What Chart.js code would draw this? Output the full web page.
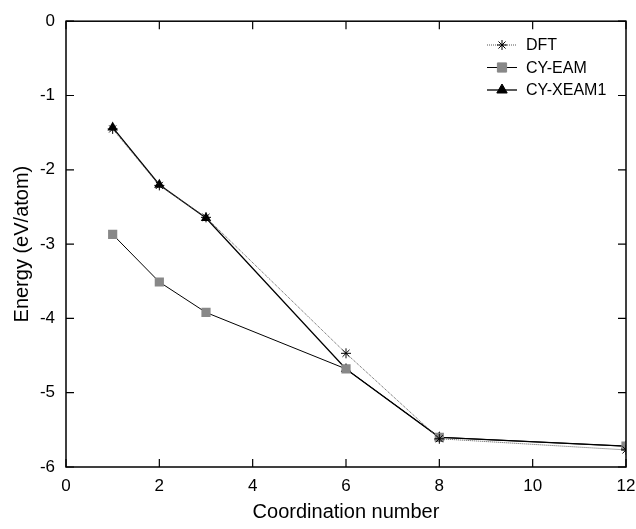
<!DOCTYPE html>
<html>
<head>
<meta charset="utf-8">
<script src="https://cdn.jsdelivr.net/npm/chart.js@4.4.1/dist/chart.umd.min.js"></script>
<style>
  html, body { margin: 0; padding: 0; background: #fff; }
  #wrap { width: 636px; height: 529px; }
</style>
</head>
<body>
<div id="wrap"><canvas id="EnergyChart" width="636" height="529"></canvas></div>
<script>
// coordination numbers and energies (eV/atom)
const coordination = [1, 2, 3, 6, 8, 12];
const dftEnergy = [-1.45, -2.21, -2.64, -4.47, -5.62, -5.77];
const eamEnergy = [-2.87, -3.51, -3.92, -4.68, -5.6, -5.72];
const xeamEnergy = [-1.43, -2.2, -2.65, -4.68, -5.6, -5.72];
const xTicks = [0, 2, 4, 6, 8, 10, 12];
const yTicks = [0, -1, -2, -3, -4, -5, -6];

function toPoints(xs, ys) {
    return xs.map(function (x, i) { return { x: x, y: ys[i] }; });
}

const FONT = 'Liberation Sans, Arial, sans-serif';

// frame, inward ticks and legend drawn on top of the plot
const framePlugin = {
    id: 'frame',
    afterDraw: function (chart) {
        const ctx = chart.ctx;
        const a = chart.chartArea;
        const xs = chart.scales.x, ys = chart.scales.y;
        ctx.save();
        ctx.strokeStyle = '#000';
        ctx.lineWidth = 1.5;
        ctx.strokeRect(a.left, a.top, a.right - a.left, a.bottom - a.top);
        ctx.lineWidth = 1.2;
        ctx.beginPath();
        xTicks.forEach(function (v) {
            const px = xs.getPixelForValue(v);
            ctx.moveTo(px, a.bottom); ctx.lineTo(px, a.bottom - 8);
            ctx.moveTo(px, a.top); ctx.lineTo(px, a.top + 8);
        });
        yTicks.forEach(function (v) {
            const py = ys.getPixelForValue(v);
            ctx.moveTo(a.left, py); ctx.lineTo(a.left + 8, py);
            ctx.moveTo(a.right, py); ctx.lineTo(a.right - 8, py);
        });
        ctx.stroke();

        // legend
        const lx = 487, lw = 30;
        chart.data.datasets.forEach(function (ds, i) {
            const y = 45 + i * 22.5;
            ctx.strokeStyle = ds.borderColor;
            ctx.lineWidth = ds.borderWidth;
            ctx.setLineDash(ds.borderDash || []);
            ctx.beginPath();
            ctx.moveTo(lx, y); ctx.lineTo(lx + lw, y);
            ctx.stroke();
            ctx.setLineDash([]);
            ctx.strokeStyle = ds.pointBorderColor;
            ctx.fillStyle = ds.pointBackgroundColor;
            ctx.lineWidth = 1;
            Chart.helpers.drawPoint(ctx, {
                pointStyle: ds.pointStyle,
                radius: ds.pointRadius,
                borderWidth: ds.pointBorderWidth || 1,
                rotation: 0
            }, lx + lw / 2, y);
            ctx.fillStyle = '#000';
            ctx.font = '16px ' + FONT;
            ctx.textBaseline = 'middle';
            ctx.textAlign = 'left';
            ctx.fillText(ds.label, lx + lw + 9, y + 1);
        });
        ctx.restore();
    }
};

const ctx = document.getElementById('EnergyChart');

new Chart(ctx, {
    type: 'scatter',
    data: {
        datasets: [{
            label: 'DFT',
            data: toPoints(coordination, dftEnergy),
            showLine: true,
            borderColor: '#555',
            borderWidth: 1,
            borderDash: [1, 1],
            pointStyle: 'star',
            pointRadius: 5,
            pointBorderColor: '#000',
            pointBackgroundColor: '#000',
            pointBorderWidth: 1
        }, {
            label: 'CY-EAM',
            data: toPoints(coordination, eamEnergy),
            showLine: true,
            borderColor: '#000',
            borderWidth: 1,
            pointStyle: 'rect',
            pointRadius: 6.5,
            pointBorderColor: '#888',
            pointBackgroundColor: '#888',
            pointBorderWidth: 0
        }, {
            label: 'CY-XEAM1',
            data: toPoints(coordination, xeamEnergy),
            showLine: true,
            borderColor: '#000',
            borderWidth: 1.3,
            pointStyle: 'triangle',
            pointRadius: 6,
            pointBorderColor: '#000',
            pointBackgroundColor: '#000',
            pointBorderWidth: 0
        }]
    },
    options: {
        responsive: false,
        animation: false,
        layout: { padding: { top: 17, right: 0, left: 0, bottom: 0 } },
        plugins: {
            legend: { display: false },
            tooltip: { enabled: false }
        },
        scales: {
            x: {
                type: 'linear',
                min: 0,
                max: 12,
                afterBuildTicks: function (scale) {
                    scale.ticks = xTicks.map(function (v) { return { value: v }; });
                },
                afterFit: function (scale) {
                    scale.height = 62;
                    scale.paddingRight = 10;
                    scale.paddingLeft = 0;
                },
                grid: { display: false, drawTicks: false },
                border: { display: false },
                ticks: { color: '#000', font: { family: FONT, size: 17 }, padding: 9 },
                title: {
                    display: true,
                    text: 'Coordination number',
                    color: '#000',
                    font: { family: FONT, size: 20 },
                    padding: { top: 0, bottom: 5 }
                }
            },
            y: {
                type: 'linear',
                min: -6,
                max: 0,
                afterBuildTicks: function (scale) {
                    scale.ticks = yTicks.map(function (v) { return { value: v }; });
                },
                afterFit: function (scale) { scale.width = 66; },
                grid: { display: false, drawTicks: false },
                border: { display: false },
                ticks: { color: '#000', font: { family: FONT, size: 17 }, padding: 11 },
                title: {
                    display: true,
                    text: 'Energy (eV/atom)',
                    color: '#000',
                    font: { family: FONT, size: 20 },
                    padding: { top: 10, bottom: 0 }
                }
            }
        }
    },
    plugins: [framePlugin]
});
</script>
</body>
</html>
